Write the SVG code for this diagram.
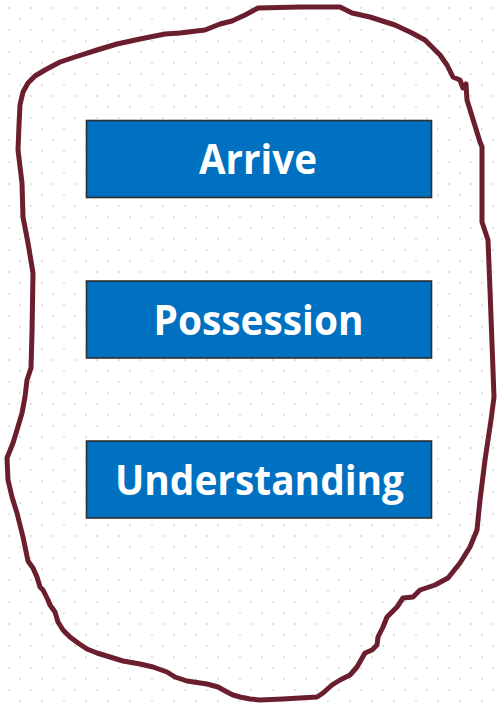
<svg xmlns="http://www.w3.org/2000/svg" width="498" height="706" viewBox="0 0 498 706">
  <style>
    .box { fill: #0070C0; stroke: #2E2E2E; stroke-width: 1.6; }
    .label { fill: #FFFFFF; font-family: "Open Sans", "Noto Sans", "Liberation Sans", sans-serif; font-weight: bold; font-size: 42px; text-anchor: middle; }
    .outline { fill: none; stroke: #6A1E2E; stroke-width: 5; stroke-linejoin: round; stroke-linecap: round; }
  </style>
  <defs>
    <!-- staggered dot grid used as the page background -->
    <pattern id="dots" x="0" y="0" width="22" height="22" patternUnits="userSpaceOnUse">
      <rect x="8" y="7" width="2" height="2" fill="#E3E3E3"/>
      <rect x="19" y="18" width="2" height="2" fill="#E3E3E3"/>
    </pattern>
  </defs>

  <rect x="0" y="0" width="498" height="706" fill="#FFFFFF"/>
  <rect x="0" y="0" width="498" height="706" fill="url(#dots)"/>

  <!-- hand-drawn boundary around the three stages -->
  <g id="boundary">
    <path class="outline" d="M18,150 L19,125 L20,105 L23,92 L28,83 L35,76 L45,70 L60,62 L75,57 L97,50 L117,44 L140,39 L165,34 L180,33 L205,30 L220,24 L232,21 L245,15 L258,8 L300,7 L340,7 L352,13 L370,17 L395,25 L412,33 L425,40 L440,55 L447,65 L453,77 L460,80 L463,88 L466,84 L467,100 L480,142 L482,147 L482,190 L482,222 L488,240 L490,290 L494,397 L491,420 L485,460 L480,500 L477,530 L470,547 L460,563 L448,578 L435,585 L420,590 L413,597 L403,598 L397,607 L387,617 L383,627 L378,637 L377,645 L372,650 L365,653 L357,667 L350,675 L340,680 L332,685 L323,693 L317,697 L283,699 L260,700 L250,699 L240,697 L233,695 L227,692 L218,687 L207,684 L187,681 L175,677 L167,672 L153,667 L140,664 L123,661 L110,657 L97,653 L87,649 L78,643 L70,637 L63,630 L58,622 L55,612 L50,605 L48,600 L43,590 L40,587 L37,577 L33,568 L28,561 L23,537 L17,513 L12,497 L8,480 L7,458 L13,443 L17,430 L22,413 L25,397 L27,380 L31,368 L32,333 L33,273 L28,243 L23,217 L22,183 Z"/>
  </g>

  <g id="connectors"></g>

  <g id="arrive">
    <rect class="box" x="86.5" y="120.5" width="345" height="77"/>
    <text class="label" x="258" y="174" textLength="118" lengthAdjust="spacingAndGlyphs">Arrive</text>
  </g>

  <g id="possession">
    <rect class="box" x="86.5" y="281" width="345" height="77"/>
    <text class="label" x="258.5" y="335" textLength="210" lengthAdjust="spacingAndGlyphs">Possession</text>
  </g>

  <g id="understanding">
    <rect class="box" x="86.5" y="441" width="345" height="77"/>
    <text class="label" x="259.5" y="494.5" textLength="289" lengthAdjust="spacingAndGlyphs">Understanding</text>
  </g>
</svg>
